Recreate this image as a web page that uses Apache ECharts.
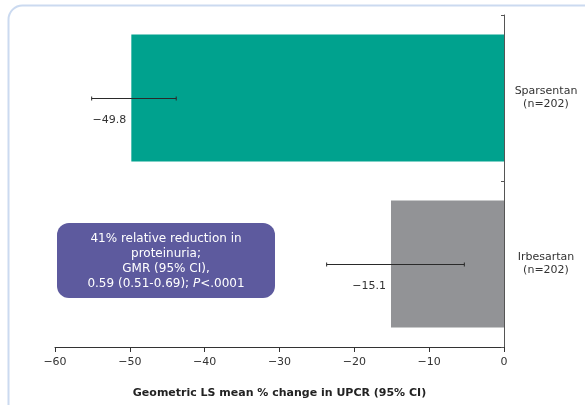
<!DOCTYPE html>
<html>
<head>
<meta charset="utf-8">
<script src="https://cdn.jsdelivr.net/npm/echarts@6/dist/echarts.min.js"></script>
<style>
  html, body { margin: 0; padding: 0; background: #fff; }
  #chart { width: 585px; height: 405px; }
</style>
</head>
<body>
<div id="chart"></div>
<script>
// Treatment groups, listed bottom to top
const groups = ['Irbesartan', 'Sparsentan'];
const groupN = [202, 202];
// Geometric LS mean % change in UPCR and its 95% CI
const meanChange = [-15.1, -49.8];
const ciLower = [-23.7, -55.1];
const ciUpper = [-5.3, -43.8];
const barColors = ['#929396', '#00a28e'];
// x-axis ticks
const xTicks = [-60, -50, -40, -30, -20, -10, 0];

const minus = v => String(v).replace('-', '\u2212');
const font = '"DejaVu Sans", Verdana, sans-serif';

const categories = groups.map((g, i) => g + '\n(n=' + groupN[i] + ')');

const chart = echarts.init(document.getElementById('chart'), null, { renderer: 'canvas' });

chart.setOption({
  animation: false,
  backgroundColor: '#fff',
  textStyle: { fontFamily: font },
  grid: { left: 55, right: 81, top: 15, bottom: 58, containLabel: false },
  xAxis: {
    type: 'value',
    min: xTicks[0],
    max: xTicks[xTicks.length - 1],
    interval: 10,
    splitLine: { show: false },
    axisLine: { show: true, lineStyle: { color: '#333', width: 1 } },
    axisTick: { show: true, length: 5, lineStyle: { color: '#333' } },
    axisLabel: { color: '#333', fontSize: 11, fontFamily: font, margin: 10, formatter: v => minus(v) },
    name: 'Geometric LS mean % change in UPCR (95% CI)',
    nameLocation: 'middle',
    nameGap: 41,
    nameTextStyle: { color: '#222', fontSize: 11, fontWeight: 'bold', fontFamily: font }
  },
  yAxis: {
    type: 'category',
    data: categories,
    position: 'right',
    axisLine: { show: true, onZero: false, lineStyle: { color: '#555', width: 1 } },
    axisTick: { show: true, inside: true, length: 3, lineStyle: { color: '#555' } },
    axisLabel: { color: '#333', fontSize: 11, fontFamily: font, align: 'center', margin: 42, lineHeight: 13 },
    splitLine: { show: false }
  },
  series: [
    {
      type: 'bar',
      barWidth: 127,
      data: meanChange.map((v, i) => ({ value: v, itemStyle: { color: barColors[i] } })),
      silent: true
    },
    {
      // 95% CI whiskers plus the value label at the end of each bar
      type: 'custom',
      data: groups.map((g, i) => [i, ciLower[i], ciUpper[i], meanChange[i]]),
      encode: { y: 0, x: [1, 2] },
      z: 10,
      renderItem: (params, api) => {
        const cat = api.value(0);
        const lo = api.coord([api.value(1), cat]);
        const hi = api.coord([api.value(2), cat]);
        const end = api.coord([api.value(3), cat]);
        const y = Math.round(lo[1]) + 0.5;
        const stroke = { stroke: '#2a2a2a', lineWidth: 1 };
        return {
          type: 'group',
          children: [
            { type: 'line', shape: { x1: lo[0], y1: y, x2: hi[0], y2: y }, style: stroke },
            { type: 'line', shape: { x1: lo[0], y1: y - 2, x2: lo[0], y2: y + 2 }, style: stroke },
            { type: 'line', shape: { x1: hi[0], y1: y - 2, x2: hi[0], y2: y + 2 }, style: stroke },
            {
              type: 'text',
              x: end[0] - 5, y: end[1] + 22,
              style: {
                text: minus(api.value(3)),
                align: 'right', verticalAlign: 'middle',
                fill: '#333', fontSize: 11, fontFamily: font
              }
            }
          ]
        };
      }
    }
  ],
  graphic: [
    {
      // page frame
      type: 'rect',
      left: 6, top: 3,
      shape: { width: 600, height: 430, r: 14 },
      style: { fill: 'none', stroke: '#cbdaf0', lineWidth: 2 },
      silent: true, z: 0
    },
    {
      type: 'group',
      left: 57, top: 223,
      children: [
        {
          type: 'rect',
          shape: { width: 218, height: 75, r: 12 },
          style: { fill: '#5d5a9e' }
        },
        {
          type: 'text',
          x: 109, y: 38,
          style: {
            text: '41% relative reduction in\nproteinuria;\nGMR (95% CI),\n0.59 (0.51-0.69); {i|P}<.0001',
            align: 'center', verticalAlign: 'middle',
            fill: '#fff', fontSize: 12, lineHeight: 15, fontFamily: font,
            rich: { i: { fontStyle: 'italic', fill: '#fff', fontSize: 12, fontFamily: font } }
          }
        }
      ]
    }
  ]
});
</script>
</body>
</html>
